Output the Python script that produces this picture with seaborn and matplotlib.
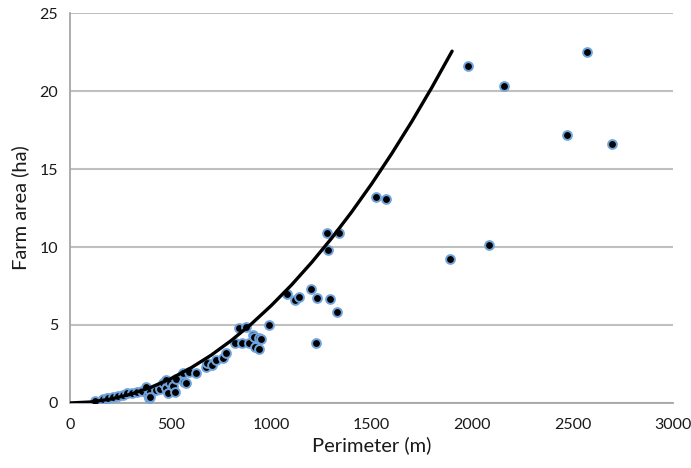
import matplotlib
matplotlib.use("Agg")
import pandas as pd
import seaborn as sns
import matplotlib.pyplot as plt

# farm perimeter (m) and area (ha)
perimeter = [123, 164, 181, 189, 214, 238, 263, 280, 304, 329,
             354, 378, 386, 391, 395, 395, 424, 444, 444, 460,
             477, 477, 485, 493, 510, 518, 526, 559, 567, 576,
             592, 625, 674, 682, 707, 724, 760, 773, 819, 839,
             852, 872, 888, 908, 913, 918, 937, 941, 951, 987,
             1077, 1118, 1138, 1197, 1223, 1227, 1278, 1281, 1293, 1325,
             1339, 1520, 1570, 1890, 1978, 2082, 2159, 2472, 2570, 2698]
area = [0.10, 0.24, 0.30, 0.32, 0.40, 0.45, 0.51, 0.62, 0.66, 0.72,
        0.79, 1.04, 0.51, 0.30, 0.72, 0.40, 0.83, 1.04, 0.88, 1.30,
        0.94, 1.47, 0.62, 1.26, 1.09, 0.72, 1.52, 1.94, 1.37, 1.26,
        2.00, 1.90, 2.33, 2.54, 2.44, 2.76, 2.87, 3.19, 3.83, 4.79,
        3.87, 4.89, 3.87, 4.36, 4.25, 3.57, 4.15, 3.44, 4.08, 4.98,
        6.99, 6.60, 6.80, 7.29, 3.87, 6.75, 10.88, 9.83, 6.65, 5.83,
        10.88, 13.2, 13.1, 9.2, 21.6, 10.1, 20.3, 17.2, 22.5, 16.6]

# square-farm reference curve
curve_perimeter = [0, 100, 200, 300, 400, 500, 600, 700, 800, 900, 1000,
                   1100, 1200, 1300, 1400, 1500, 1600, 1700, 1800, 1900]
curve_area = [0, 0.06, 0.25, 0.56, 1.0, 1.56, 2.25, 3.06, 4.0, 5.06, 6.25,
              7.56, 9.0, 10.56, 12.25, 14.06, 16.0, 18.06, 20.25, 22.56]

data = pd.DataFrame({'Perimeter': perimeter, 'Area': area})
curve = pd.DataFrame({'Perimeter': curve_perimeter, 'Area': curve_area})

sns.set_style("white")
plt.rcParams['font.family'] = ['Lato', 'DejaVu Sans']

fig = plt.figure(figsize=(6.91, 4.68), dpi=100)
ax = fig.add_axes([0.102, 0.139, 0.872, 0.833])

ax.yaxis.grid(True, color='#c0c0c0', linewidth=1.5)
ax.set_axisbelow(True)

sns.scatterplot(x='Perimeter', y='Area', data=data, ax=ax, color='black',
                edgecolor='#6fa3dc', linewidth=1.4, s=40, zorder=3)
sns.lineplot(x='Perimeter', y='Area', data=curve, ax=ax, color='black',
             linewidth=2.4, zorder=4)

ax.set_xlim(0, 3000)
ax.set_ylim(0, 25)
ax.set_xticks(range(0, 3001, 500))
ax.set_yticks(range(0, 26, 5))

for s in ['top', 'right']:
    ax.spines[s].set_visible(False)
for s in ['left', 'bottom']:
    ax.spines[s].set_color('#a6a6a6')
    ax.spines[s].set_linewidth(1.3)
ax.tick_params(axis='both', direction='out', length=5, width=1.2,
               color='#a6a6a6', labelsize=11.5, labelcolor='#1a1a1a', pad=4)
ax.tick_params(axis='x', pad=6)

ax.set_xlabel('Perimeter (m)', fontsize=14.5, color='#1a1a1a', labelpad=3)
ax.set_ylabel('Farm area (ha)', fontsize=14.5, color='#1a1a1a', labelpad=7)

fig.savefig('out.png', dpi=100)
